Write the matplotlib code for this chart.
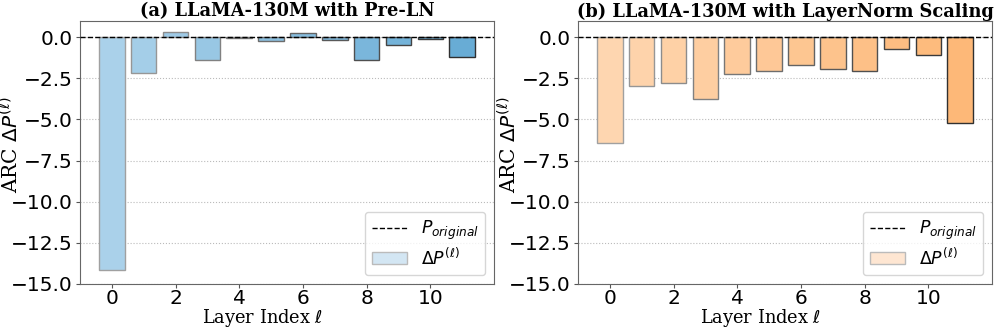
import numpy as np
import matplotlib.pyplot as plt
from matplotlib.patches import Patch
from matplotlib.lines import Line2D
from matplotlib.colors import to_rgb

layers = np.arange(12)
prenorm_delta = [-14.15, -2.2, 0.32, -1.37, -0.05, -0.26, 0.24, -0.2, -1.37, -0.45, -0.1, -1.2]
lns_delta = [-6.43, -2.95, -2.81, -3.76, -2.25, -2.04, -1.70, -1.96, -2.04, -0.69, -1.11, -5.2]
titles = ["(a) LLaMA-130M with Pre-LN", "(b) LLaMA-130M with LayerNorm Scaling"]


def ramp(c0, c1, n):
    a = np.array(to_rgb(c0))
    b = np.array(to_rgb(c1))
    return [tuple(a + (b - a) * t) for t in np.linspace(0, 1, n)]


fig = plt.figure(figsize=(9.96, 3.29), dpi=100)
ax1 = fig.add_axes([0.0803, 0.137, 0.4157, 0.800])
ax2 = fig.add_axes([0.5803, 0.137, 0.4157, 0.800])

panels = [
    (ax1, prenorm_delta, ("#aad1ea", "#68acd5"), "#d3e6f3"),
    (ax2, lns_delta, ("#fed6b0", "#fdb878"), "#fee6d2"),
]

for i, (ax, vals, (c0, c1), legc) in enumerate(panels):
    faces = ramp(c0, c1, len(vals))
    edges = ramp("#a0a0a0", "#303030", len(vals))
    ax.bar(layers, vals, width=0.8, color=faces, edgecolor=edges, linewidth=1.0, zorder=2)
    ax.axhline(0, color="black", linestyle="--", linewidth=1.0, zorder=3)
    ax.set_xlim(-1, 12)
    ax.set_ylim(-15, 1)
    ax.set_xticks([0, 2, 4, 6, 8, 10])
    ax.set_yticks([0, -2.5, -5, -7.5, -10, -12.5, -15])
    ax.tick_params(labelsize=14.5, color="#555555", length=3, pad=2)
    ax.tick_params(axis="x", pad=1)
    ax.grid(axis="y", linestyle=":", color="#bbbbbb", linewidth=0.8, zorder=0)
    for s in ax.spines.values():
        s.set_color("#666666")
    ax.set_title(titles[i], fontsize=12.8, fontweight="bold", family="DejaVu Serif", pad=3)
    ax.set_xlabel(r"Layer Index $\ell$", fontsize=12.8, family="DejaVu Serif")
    ax.set_ylabel(r"ARC $\Delta P^{(\ell)}$", fontsize=14.5, family="DejaVu Serif")
    ax.xaxis.set_label_coords(0.44, -0.088)
    ax.yaxis.set_label_coords(-0.138, 0.53)
    handles = [
        Line2D([], [], color="black", linestyle="--", linewidth=1.0),
        Patch(facecolor=legc, edgecolor="#bbbbbb"),
    ]
    ax.legend(handles, [r"$P_{original}$", r"$\Delta P^{(\ell)}$"], loc="lower right",
              fontsize=12.5, labelspacing=0.3, borderaxespad=0.5)

fig.savefig("out.png", dpi=100)
